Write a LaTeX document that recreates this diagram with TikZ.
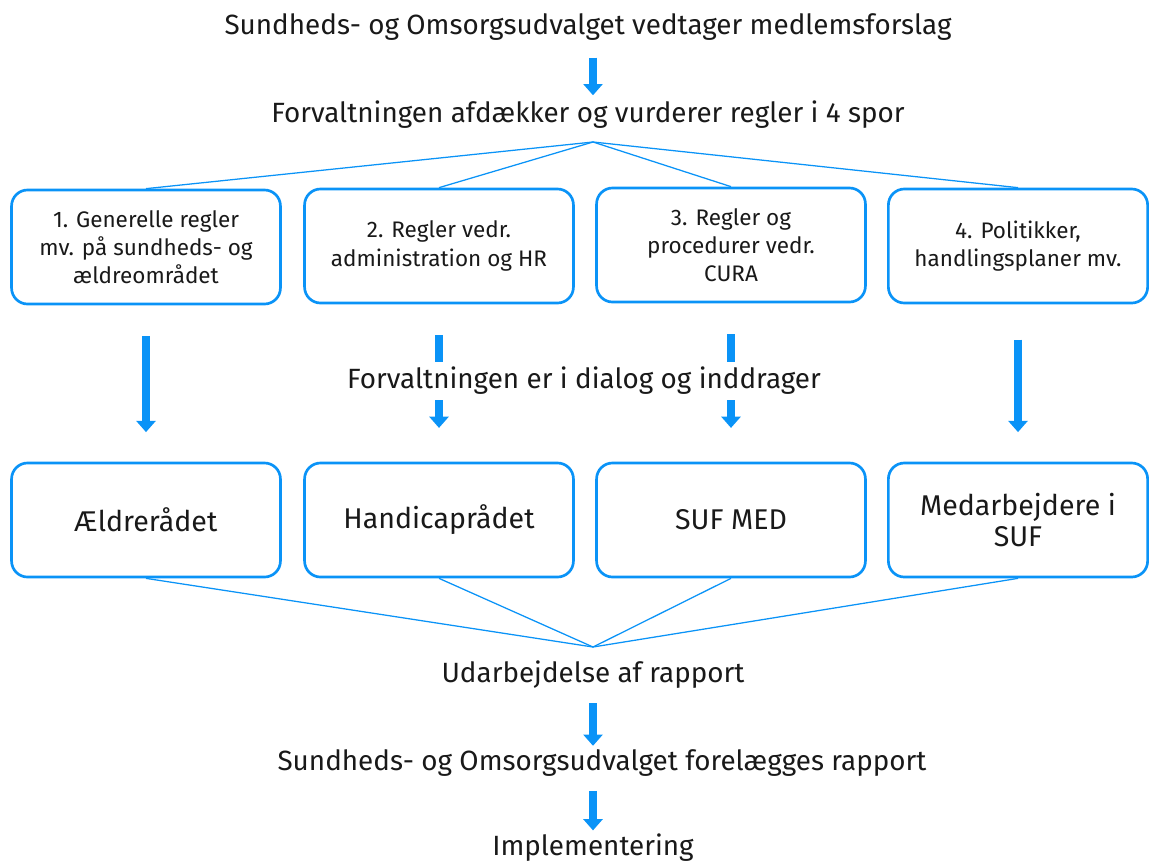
\documentclass[tikz,border=0pt]{standalone}
\usepackage{fontspec}
\setmainfont{Fira Sans}
\usetikzlibrary{arrows.meta}
\definecolor{flowblue}{HTML}{0A93F7}
\begin{document}
\begin{tikzpicture}[
  x=0.025cm, y=-0.025cm,
  title/.style={font=\fontsize{19.8}{23}\selectfont, text=black!90, inner sep=2pt},
  sporbox/.style={draw=flowblue, line width=1.9pt, rounded corners=0.4cm, align=center,
    minimum width=6.72cm, minimum height=2.85cm, font=\fontsize{16}{20}\selectfont, text=black!90},
  raadbox/.style={sporbox, font=\fontsize{20.3}{22}\selectfont},
  fan/.style={draw=flowblue, line width=0.9pt},
  bigarrow/.style={draw=flowblue, line width=6pt, -{Triangle[width=13.5pt, length=8pt]}},
]
\useasboundingbox (0,0) rectangle (1154,862);

% steps at the top
\node[title] (vedtag) at (588,27)  {Sundheds- og Omsorgsudvalget vedtager medlemsforslag};
\node[title] (afdaek) at (588,115) {Forvaltningen afdækker og vurderer regler i 4 spor};
\coordinate (fantop) at (593,142);

% the four tracks
\node[sporbox] (spor1) at (146,247)  {1. Generelle regler\\mv. på sundheds- og\\ældreområdet};
\node[sporbox] (spor2) at (439,246)  {2. Regler vedr.\\administration og HR};
\node[sporbox] (spor3) at (731,245)  {3. Regler og\\procedurer vedr.\\CURA};
\node[sporbox, minimum width=6.48cm] (spor4) at (1018,246) {4. Politikker,\\handlingsplaner mv.};

% the four councils
\node[raadbox] (raad1) at (146,520)  {Ældrerådet};
\node[raadbox] (raad2) at (439,520)  {Handicaprådet};
\node[raadbox] (raad3) at (731,520)  {SUF MED};
\node[raadbox, minimum width=6.48cm] (raad4) at (1018,520) {Medarbejdere i\\SUF};
\coordinate (fanbot) at (593,647);

% steps at the bottom
\node[title] (rapport) at (593,675) {Udarbejdelse af rapport};
\node[title] (forelag) at (602,763) {Sundheds- og Omsorgsudvalget forelægges rapport};
\node[title] (implem)  at (593,848) {Implementering};

% fan lines
\foreach \i in {1,...,4} {
  \draw[fan] (fantop) -- (spor\i.north);
  \draw[fan] (raad\i.south) -- (fanbot);
}

% thick arrows
\draw[bigarrow, shorten <=10pt, shorten >=2pt] (vedtag.south -| fantop) -- (afdaek.north -| fantop);
\draw[bigarrow, shorten <=22pt, shorten >=21pt] (spor1) -- (raad1);
\draw[bigarrow, shorten <=22pt, shorten >=24pt] (spor2) -- (raad2);
\draw[bigarrow, shorten <=22pt, shorten >=24pt] (spor3) -- (raad3);
\draw[bigarrow, shorten <=25pt, shorten >=21pt] (spor4) -- (raad4);
\draw[bigarrow, shorten <=8pt, shorten >=0.5pt] (rapport.south -| fanbot) -- (forelag.north -| fanbot);
\draw[bigarrow, shorten <=8pt, shorten >=0.5pt] (forelag.south -| fanbot) -- (implem.north -| fanbot);

% middle text sits over the two inner arrows
\node[title, fill=white, inner ysep=4pt, inner xsep=0pt] (dialog) at (584,381) {Forvaltningen er i dialog og inddrager};
\end{tikzpicture}
\end{document}
